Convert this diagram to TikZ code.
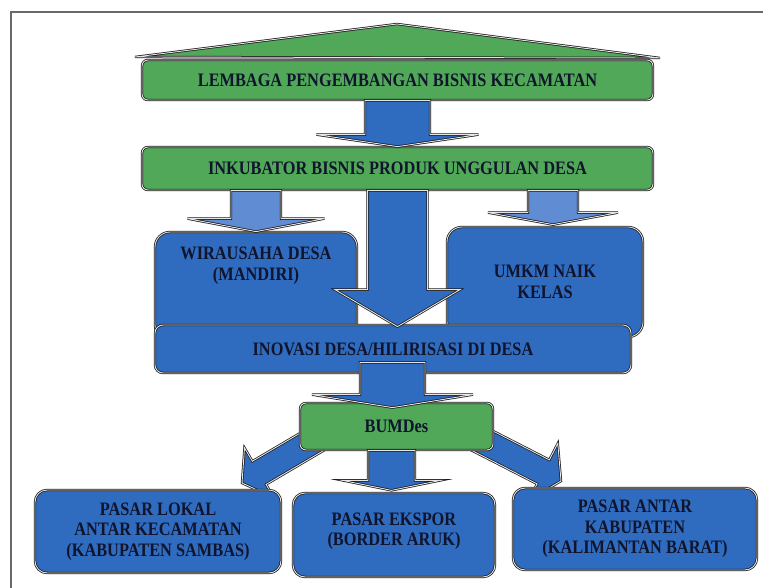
\documentclass[tikz,border=0pt]{standalone}
\usepackage{fontspec}
\setmainfont{Liberation Serif}[FakeStretch=0.86]
\usetikzlibrary{calc}
\definecolor{boxblue}{RGB}{47,108,192}
\definecolor{lightblue}{RGB}{96,140,212}
\definecolor{boxgreen}{RGB}{80,168,88}
\definecolor{txtnavy}{RGB}{16,20,44}
\definecolor{framegray}{RGB}{105,105,105}
\newcommand{\boxfont}{\fontsize{19}{20.5}\selectfont\bfseries}
\tikzset{
    outline/.style={draw=black!90, line width=0.75pt, double=gray!20, double distance=0.9pt},
    box_green/.style={rectangle, outline, rounded corners=6pt, fill=boxgreen, text=txtnavy, align=center, font=\boxfont, inner sep=2pt},
    box_blue/.style={rectangle, outline, rounded corners=12pt, fill=boxblue, text=txtnavy, align=center, font=\boxfont, inner sep=2pt},
    arrow_dark/.style={outline, fill=boxblue, line join=miter},
    arrow_light/.style={outline, fill=lightblue, line join=miter}
}
% block arrow: [style]{from}{to}{shaft half width}{head half width}{head length}
\newcommand{\blockarrow}[6][]{%
  \coordinate (ba-s) at #2;
  \coordinate (ba-t) at #3;
  \coordinate (ba-n) at ($(ba-t)!#6!(ba-s)$);
  \draw[#1] ($(ba-s)!#4!90:(ba-t)$) -- ($(ba-n)!#4!90:(ba-t)$)
    -- ($(ba-n)!#5!90:(ba-t)$) -- (ba-t)
    -- ($(ba-n)!#5!-90:(ba-t)$) -- ($(ba-n)!#4!-90:(ba-t)$)
    -- ($(ba-s)!#4!-90:(ba-t)$) -- cycle;
}

\begin{document}
\begin{tikzpicture}[x=1pt, y=-1pt]
            \useasboundingbox (0,0) rectangle (763,588);

            % Frame
            \draw[framegray, line width=1.2pt] (11,588) -- (11,12) -- (763,12);

            % Roof and top boxes
            \draw[outline, fill=boxgreen, line join=miter] (135,57) -- (397,24) -- (660,58) -- cycle;
            \node[box_green, minimum width=511pt, minimum height=40pt] (lembaga) at (397.5,80) {LEMBAGA PENGEMBANGAN BISNIS KECAMATAN};
            \node[box_green, minimum width=511pt, minimum height=43pt] (inkubator) at (397.5,168.5) {INKUBATOR BISNIS PRODUK UNGGULAN DESA};
            \blockarrow[arrow_dark]{(lembaga.south)}{(inkubator.north)}{32.5pt}{81pt}{12pt}

            % Middle level
            \node[box_blue, rounded corners=15pt, minimum width=202pt, minimum height=108pt, text depth=45pt] (wirausaha) at (256,286) {WIRAUSAHA DESA\\(MANDIRI)};
            \node[box_blue, rounded corners=15pt, minimum width=196pt, minimum height=110pt] (umkm) at (545,282) {UMKM NAIK\\KELAS};
            \blockarrow[arrow_light]{(inkubator.south -| wirausaha.north)}{(wirausaha.north)}{25pt}{68.5pt}{13pt}
            \blockarrow[arrow_light]{($(inkubator.south -| umkm.north)+(8,0)$)}{($(umkm.north)+(8,-2)$)}{25pt}{65pt}{12pt}
            \node[box_blue, rounded corners=8pt, minimum width=476pt, minimum height=48pt] (inovasi) at (393,349) {INOVASI DESA/HILIRISASI DI DESA};
            \blockarrow[arrow_dark]{(inkubator.south)}{($(inkubator.south |- inovasi.north)+(0,2)$)}{30pt}{62.5pt}{37pt}

            % BUMDes and markets
            \blockarrow[arrow_dark]{($(396.5,426.5)+(-62,2)$)}{(242,483)}{13.5pt}{29pt}{20pt}
            \blockarrow[arrow_dark]{($(396.5,426.5)+(62,2)$)}{(561,481)}{13.5pt}{32pt}{20pt}
            \node[box_green, minimum width=193pt, minimum height=47pt] (bumdes) at (396.5,426.5) {BUMDes};
            \blockarrow[arrow_dark]{($(inovasi.south -| bumdes.north)+(-4,-11)$)}{($(bumdes.north)+(-4,5)$)}{32.5pt}{80.5pt}{13pt}
            \blockarrow[arrow_dark]{($(bumdes.south)+(-5,0)$)}{($(bumdes.south)+(-5,40)$)}{23.5pt}{49pt}{10pt}
            \node[box_blue, minimum width=246pt, minimum height=83pt] (lokal) at (158,531.5) {PASAR LOKAL\\ANTAR KECAMATAN\\(KABUPATEN SAMBAS)};
            \node[box_blue, minimum width=202pt, minimum height=84pt, text depth=12pt] (ekspor) at (394,535) {PASAR EKSPOR\\(BORDER ARUK)};
            \node[box_blue, minimum width=244pt, minimum height=82pt] (antarkab) at (635,529) {PASAR ANTAR\\KABUPATEN\\(KALIMANTAN BARAT)};
\end{tikzpicture}
\end{document}
